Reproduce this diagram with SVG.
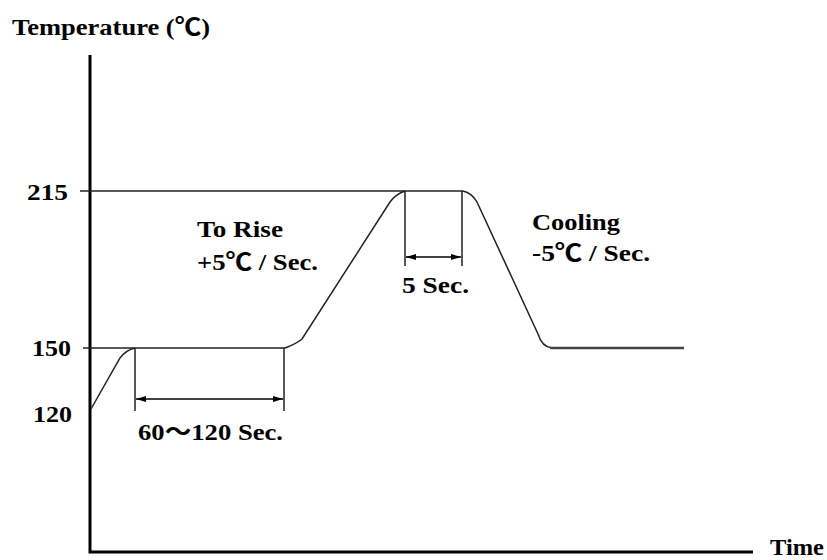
<svg xmlns="http://www.w3.org/2000/svg" width="827" height="560" viewBox="0 0 827 560">
<style>
text{font-family:"Liberation Serif","Noto Sans CJK SC",serif;font-weight:bold;font-size:24px;fill:#000}
.ax{stroke:#000;stroke-width:3;fill:none}
.ln{stroke:#222;stroke-width:1.5;fill:none}
.lv{stroke:#222;stroke-width:1.5;fill:none}
.dim{stroke:#000;stroke-width:1.5;fill:none;marker-start:url(#ah);marker-end:url(#ah)}
</style>
<defs>
<marker id="ah" viewBox="0 0 10 6" refX="10" refY="3" markerWidth="10" markerHeight="6" markerUnits="userSpaceOnUse" orient="auto-start-reverse">
<path d="M0,0 L10,3 L0,6 Z" fill="#000"/>
</marker>
</defs>
<rect width="827" height="560" fill="#fff"/>
<g id="axes">
<path class="ax" d="M90,55 V552 H753"/>
<text x="12" y="35" textLength="198" lengthAdjust="spacingAndGlyphs">Temperature (℃)</text>
<text x="770" y="555" font-size="22" textLength="54" lengthAdjust="spacingAndGlyphs">Time</text>
<text x="27" y="200" textLength="41" lengthAdjust="spacingAndGlyphs">215</text>
<text x="32" y="356" textLength="39" lengthAdjust="spacingAndGlyphs">150</text>
<text x="33" y="422" textLength="39" lengthAdjust="spacingAndGlyphs">120</text>
</g>
<g id="connectors">
<path class="ln" d="M80,191 H463"/>
<path class="ln" d="M83,348 H285"/>
<path class="ln" d="M91,409 L120,358 Q126,350 135,348"/>
<path class="ln" d="M285,348 Q296,344 302,339 L390,202 Q396,194 405,191"/>
<path class="ln" d="M463,191 Q472,193 477,202 L538,334 Q542,347 552,348"/>
<path stroke="#444" stroke-width="2.5" fill="none" d="M550,348 H684"/>
<path class="lv" d="M135,348 V411 M284,348 V411 M405,191 V266 M462,191 V266"/>
<path class="dim" d="M136,399 H283"/>
<path class="dim" d="M406,257 H461"/>
</g>
<g id="label-rise">
<text x="197" y="237" textLength="86" lengthAdjust="spacingAndGlyphs">To Rise</text>
<text x="197" y="270" textLength="121" lengthAdjust="spacingAndGlyphs">+5℃ / Sec.</text>
</g>
<g id="label-cool">
<text x="532" y="230" textLength="88" lengthAdjust="spacingAndGlyphs">Cooling</text>
<text x="532" y="261" textLength="118" lengthAdjust="spacingAndGlyphs">-5℃ / Sec.</text>
</g>
<g id="label-hold">
<text x="402" y="293" textLength="67" lengthAdjust="spacingAndGlyphs">5 Sec.</text>
</g>
<g id="label-soak">
<text x="138" y="440" textLength="145" lengthAdjust="spacingAndGlyphs">60～120 Sec.</text>
</g>
</svg>
